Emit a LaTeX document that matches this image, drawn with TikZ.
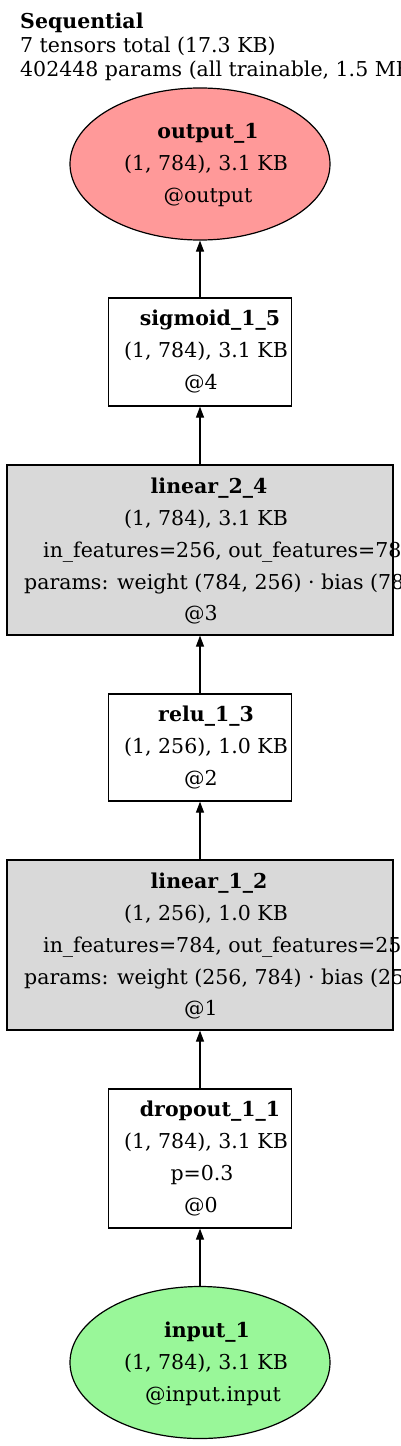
\documentclass[tikz,border=0pt]{standalone}
\usepackage{fontspec}
\setmainfont{DejaVu Serif}
\usetikzlibrary{shapes.geometric,arrows.meta}
\definecolor{outfill}{HTML}{FF9999}
\definecolor{infill}{HTML}{99F799}
\definecolor{boxgray}{HTML}{D9D9D9}
\tikzset{
  txt/.style={inner sep=0pt,anchor=base,font=\fontsize{20.5bp}{24bp}\selectfont},
  txtl/.style={txt,anchor=base west},
  oval/.style={ellipse,draw=black,line width=1.2bp,minimum width=260bp,minimum height=152bp,inner sep=0pt},
  opbox/.style={rectangle,draw=black,line width=1.2bp,inner sep=0pt},
  arr/.style={line width=1.2bp,-{Triangle[length=11bp,width=8bp]}},
}
\begin{document}
\begin{tikzpicture}[x=1bp,y=-1bp]
\useasboundingbox (0,0) rectangle (400,1446);
\fill[white] (0,0) rectangle (400,1446);
% header
\node[txtl] (h1) at (20,29) {\textbf{Sequential}};
\node[txtl] (h2) at (20,53) {7 tensors total (17.3 KB)};
\node[txtl] (h3) at (20,77) {402448 params (all trainable, 1.5 MB)};
% shapes
\node[oval,fill=outfill] (out) at (200,164) {};
\node[opbox,minimum width=183bp,minimum height=108bp] (sig) at (200,352) {};
\node[opbox,fill=boxgray,minimum width=386bp,minimum height=170bp] (lin2) at (200,550) {};
\node[opbox,minimum width=183bp,minimum height=107bp] (relu) at (200,747.5) {};
\node[opbox,fill=boxgray,minimum width=386bp,minimum height=170bp] (lin1) at (200,945) {};
\node[opbox,minimum width=183bp,minimum height=139bp] (drop) at (200,1158.5) {};
\node[oval,fill=infill] (inp) at (200,1362.5) {};
% texts
\node[txt] (outa) at (208,139) {\textbf{output\_1}};
\node[txt] (outb) at (206,171) {(1, 784), 3.1 KB};
\node[txt] (outc) at (208,203) {@output};
\node[txt] (siga) at (210,325) {\textbf{sigmoid\_1\_5}};
\node[txt] (sigb) at (206,357) {(1, 784), 3.1 KB};
\node[txt] (sigc) at (201,389) {@4};
\node[txt] (lin2a) at (209,493) {\textbf{linear\_2\_4}};
\node[txt] (lin2b) at (206,525) {(1, 784), 3.1 KB};
\node[txtl] (lin2c) at (43,557) {in\_features=256, out\_features=784};
\node[txtl] (lin2d) at (24,589) {params: weight (784, 256) · bias (784)};
\node[txt] (lin2e) at (201,620) {@3};
\node[txt] (relua) at (206,721) {\textbf{relu\_1\_3}};
\node[txt] (relub) at (206,753) {(1, 256), 1.0 KB};
\node[txt] (reluc) at (201,785) {@2};
\node[txt] (lin1a) at (209,888) {\textbf{linear\_1\_2}};
\node[txt] (lin1b) at (206,920) {(1, 256), 1.0 KB};
\node[txtl] (lin1c) at (43,952) {in\_features=784, out\_features=256};
\node[txtl] (lin1d) at (24,984) {params: weight (256, 784) · bias (256)};
\node[txt] (lin1e) at (201,1015) {@1};
\node[txt] (dropa) at (210,1116) {\textbf{dropout\_1\_1}};
\node[txt] (dropb) at (206,1148) {(1, 784), 3.1 KB};
\node[txt] (dropc) at (202,1180) {p=0.3};
\node[txt] (dropd) at (201,1212) {@0};
\node[txt] (inpa) at (207,1337) {\textbf{input\_1}};
\node[txt] (inpb) at (206,1369) {(1, 784), 3.1 KB};
\node[txt] (inpc) at (213,1401) {@input.input};
% connectors
\draw[arr] (inp.north) -- (drop.south);
\draw[arr] (drop.north) -- (lin1.south);
\draw[arr] (lin1.north) -- (relu.south);
\draw[arr] (relu.north) -- (lin2.south);
\draw[arr] (lin2.north) -- (sig.south);
\draw[arr] (sig.north) -- (out.south);
\end{tikzpicture}
\end{document}
